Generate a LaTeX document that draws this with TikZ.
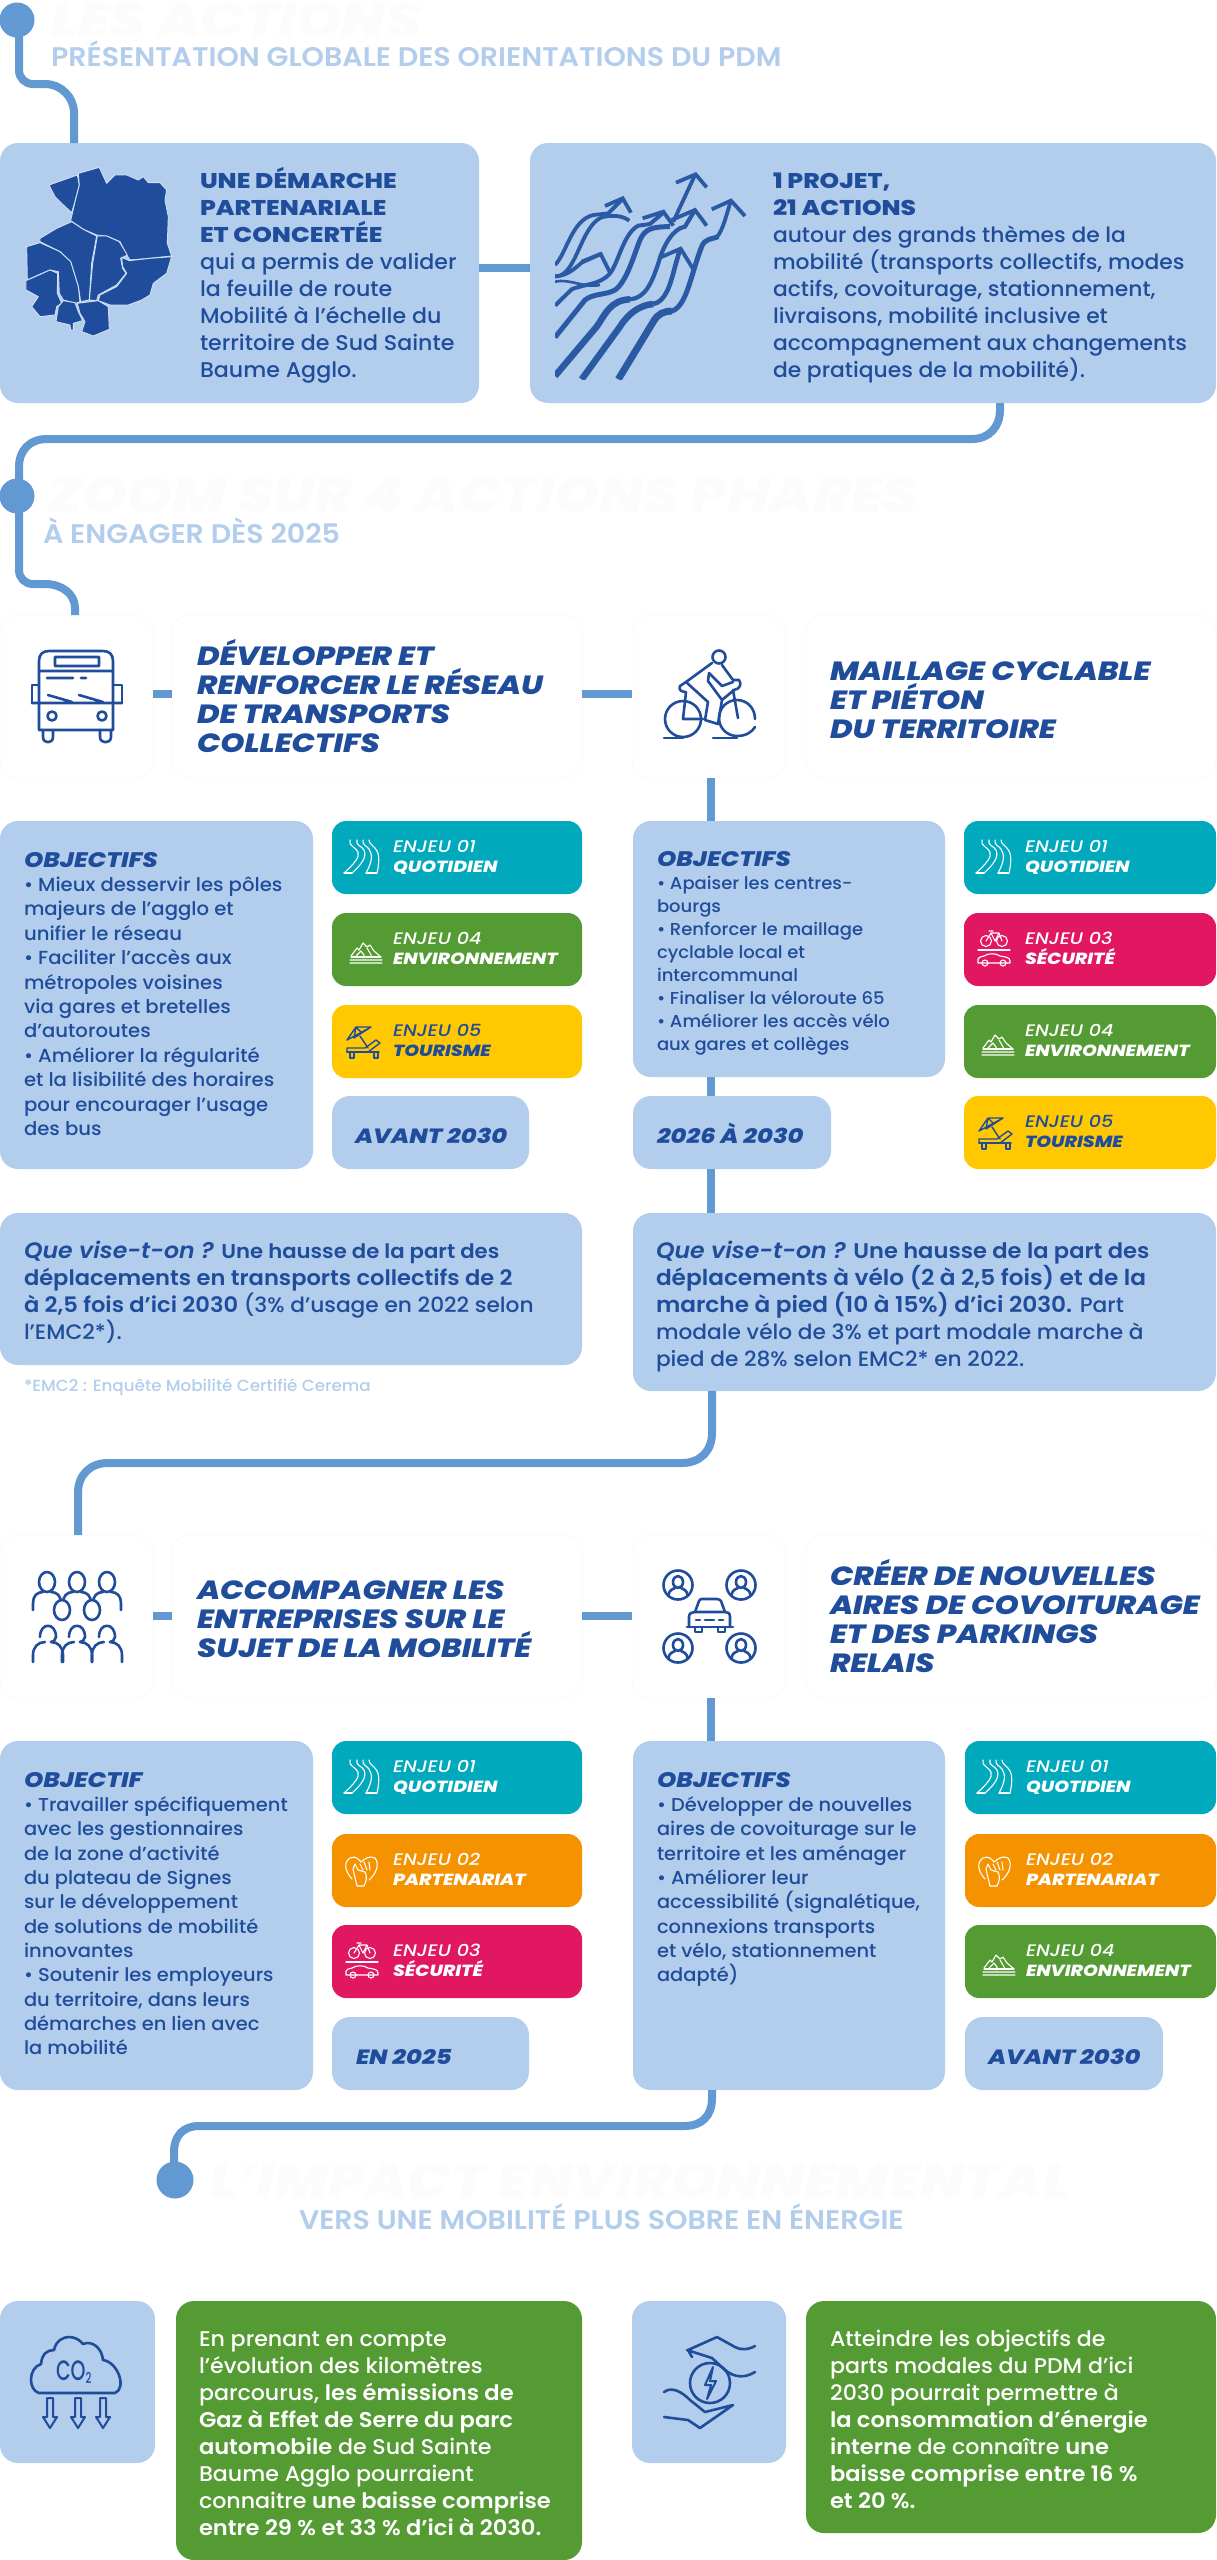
\documentclass[tikz,border=0pt]{standalone}
\usepackage{fontspec}
\setmainfont{Poppins Medium}[UprightFeatures={FakeStretch=1.04},BoldFont={Poppins ExtraBold},BoldFeatures={FakeStretch=1.17},ItalicFont={Poppins Medium Italic},ItalicFeatures={FakeStretch=1.15},BoldItalicFont={Poppins ExtraBold Italic},BoldItalicFeatures={FakeStretch=1.17}]
\newfontfamily\semif{Poppins SemiBold}[FakeStretch=1.06]
\newfontfamily\semiit{Poppins SemiBold Italic}[FakeStretch=1.06]
\newfontfamily\condf{Poppins Medium}[FakeStretch=0.68]
\definecolor{bluebox}{HTML}{B3CDEC}
\definecolor{ink}{HTML}{1F4D9B}
\definecolor{wave}{HTML}{2B5AA5}
\definecolor{conn}{HTML}{6299D2}
\definecolor{teal}{HTML}{00A9BC}
\definecolor{grn}{HTML}{549B33}
\definecolor{yel}{HTML}{FFC800}
\definecolor{org}{HTML}{F59200}
\definecolor{mag}{HTML}{E11762}
\definecolor{ghost}{HTML}{FCFCFC}
\definecolor{edge}{HTML}{FBFBFB}
\newcommand{\blk}[2]{\vtop{\baselineskip=#1pt\lineskiplimit=-100pt\halign{##\hfil\cr #2\cr}}}
\newcommand{\fsz}[1]{\fontsize{#1}{#1}\selectfont}
\tikzset{
  x=1pt,y=-1pt,
  card/.style={rectangle,rounded corners=18pt,anchor=north west,inner sep=0,outer sep=0,draw=none},
  bluecard/.style={card,fill=bluebox},
  ghostcard/.style={card,fill=white,draw=edge,line width=1pt},
  txt/.style={anchor=base west,inner sep=0,outer sep=0,text=ink},
  wtxt/.style={txt,text=white},
  body/.style={txt,font=\fsz{21.3}},
  ttl/.style={txt,font=\fsz{26.3}\bfseries\itshape},
  dateT/.style={txt,font=\fsz{20.6}\bfseries\itshape},
  subT/.style={txt,text=bluebox,font=\fsz{26.9}\semif},
  ghostT/.style={txt,text=ghost,font=\fsz{49}\bfseries\itshape},
  line/.style={draw=conn,line width=8pt},
  dotn/.style={circle,fill=conn,inner sep=0,minimum size=35pt},
  ic/.style={draw=ink,line width=2.6pt,line cap=round,line join=round},
  iw/.style={line width=1.1pt,line cap=round,line join=round},
  wv/.style={draw=wave,line width=3.8pt,line cap=butt,line join=miter},
}
% name, x, y, w, h
\newcommand{\cbb}[5]{\node[bluecard,minimum width=#4pt,minimum height=#5pt] (#1) at (#2,#3) {};}
\newcommand{\cgg}[5]{\node[ghostcard,minimum width=#4pt,minimum height=#5pt] (#1) at (#2,#3) {};}
\newcommand{\cgr}[5]{\node[card,fill=grn,minimum width=#4pt,minimum height=#5pt] (#1) at (#2,#3) {};}
% enjeu: name,x y,w,colour,textcolour,line1,line2,icon
\newcommand{\enj}[8]{%
  \node[card,rounded corners=14pt,fill=#4,minimum width=#3pt,minimum height=73pt] (#1) at (#2) {};
  \node[txt,text=#5,font=\fsz{16.7}\itshape,at={(#1.north west)},xshift=61pt,yshift=-31pt] (#1t) {\blk{20}{#6\cr{\fsz{16.1}\bfseries #7}}};
  \begin{scope}[shift={(#1.north west)}] #8 \end{scope}%
}
\newcommand{\ohead}[1]{{\fsz{21}\bfseries\itshape #1}}
\newcommand{\qv}{{\fsz{22.3}\semiit Que vise-t-on ?}}
\newcommand{\icroad}{\begin{scope}[draw=white,iw]
 \draw (12,52) .. controls (22,43) and (28,36) .. (26,31) .. controls (24,26) and (16,25) .. (18,19);
 \draw (20,52) .. controls (30,43) and (35,36) .. (32,29) .. controls (30,25) and (23,24) .. (25,19);
 \draw (34,52) .. controls (40,41) and (41,34) .. (37,28) .. controls (35,25) and (30,24) .. (31,19);
 \draw (45,52) .. controls (48,39) and (47,31) .. (43,27) .. controls (41,24) and (37,23) .. (37,19);
 \draw (12,52) -- (20,52) (34,52) -- (45,52);
\end{scope}}
\newcommand{\ichand}{\begin{scope}[draw=white,iw]
 \draw (20,45) .. controls (12,36) and (12,28) .. (18,24) .. controls (24,21) and (27,26) .. (29,28) .. controls (32,25) and (38,21) .. (43,24) .. controls (48,30) and (44,40) .. (37,46);
 \draw (21,35) -- (25,52) -- (32,52) .. controls (35,46) and (35,42) .. (33,38) -- (26,36) -- (23,30) -- cycle;
 \draw (28,30) -- (31,36) (32,28) -- (35,36) (37,28) -- (38,36);
\end{scope}}
\newcommand{\icsec}{\begin{scope}[draw=white,iw]
 \draw (22,28) circle (5.5) (38,28) circle (5.5);
 \draw (22,28) -- (27,20) -- (35,20) -- (38,28) (27,20) -- (31,28) -- (35,20) (25,18) -- (29,18);
 \draw (14,37) -- (46,37);
 \draw (14,49) -- (14,46) .. controls (14,44) and (17,44) .. (20,43) .. controls (24,40) and (32,40) .. (36,43) .. controls (41,44) and (46,44) .. (46,48) -- (46,50) -- (14,50) -- cycle;
 \draw (21,50) circle (3) (39,50) circle (3);
\end{scope}}
\newcommand{\icmount}{\begin{scope}[draw=white,iw]
 \draw (19,43) -- (25,35) -- (27,37) -- (31,30) -- (35,34) -- (38,32) -- (42,38) -- (49,44);
 \draw (24,43) -- (29,38) -- (32,42) -- (32,45) (35,35) -- (38,40) -- (40,44);
 \draw (19,44) -- (49,44);
 \draw (18,47) .. controls (21,45.5) and (23,48.5) .. (26,47) .. controls (29,45.5) and (31,48.5) .. (34,47) .. controls (37,45.5) and (39,48.5) .. (42,47) .. controls (45,45.5) and (47,48.5) .. (50,47);
 \draw (18,50) .. controls (21,48.5) and (23,51.5) .. (26,50) .. controls (29,48.5) and (31,51.5) .. (34,50) .. controls (37,48.5) and (39,51.5) .. (42,50) .. controls (45,48.5) and (47,51.5) .. (50,50);
\end{scope}}
\newcommand{\icsun}{\begin{scope}[draw=ink,iw,line width=1.4pt]
 \draw (15,35) -- (24,22) -- (39,22) -- cycle (24,22) -- (22,33) (24,22) -- (30,28) (39,22) -- (22,33);
 \draw (28,31) -- (36,43);
 \draw (15,43) -- (33,43) -- (44,35) -- (48,38) -- (36,47) -- (15,47) -- cycle;
 \draw (15,47) -- (47,47);
 \draw (18,47) -- (18,53) -- (22,53) -- (22,47) (42,47) -- (42,53) -- (46,53) -- (46,47);
\end{scope}}
\begin{document}
\begin{tikzpicture}
\useasboundingbox (0,0) rectangle (1216,2560);
\fill[white] (0,0) rectangle (1216,2560);
% ---------- boxes
\cbb{b1}{0}{143}{479}{260}
\cbb{b2}{530}{143}{686}{260}
\cgg{cA}{0}{615}{153}{163}
\cgg{cB}{172}{615}{410}{163}
\cgg{cC}{632}{615}{153}{163}
\cgg{cD}{805}{615}{411}{163}
\cgg{eA}{0}{1535}{153}{163}
\cgg{eB}{172}{1535}{410}{163}
\cgg{eC}{632}{1535}{153}{163}
\cgg{eD}{805}{1535}{411}{163}
\cbb{oA}{0}{821}{313}{348}
\cbb{oB}{633}{821}{312}{256}
\cbb{dA}{332}{1096}{197}{73}
\cbb{dB}{633}{1096}{198}{73}
\cbb{qA}{0}{1213}{582}{152}
\cbb{qB}{633}{1213}{583}{178}
\cbb{oC}{0}{1741}{313}{349}
\cbb{oD}{633}{1741}{312}{349}
\cbb{dC}{332}{2017}{197}{73}
\cbb{dD}{965}{2017}{198}{73}
\cbb{iL}{0}{2301}{155}{162}
\cbb{iR}{632}{2301}{154}{162}
\cgr{gL}{176}{2301}{406}{259}
\cgr{gR}{806}{2301}{410}{232}
% ---------- connectors
\coordinate (k1) at (19,20);
\coordinate (k3) at (174,2180);
\draw[line] (k1) -- (19,70) .. controls (19,78) and (25,84) .. (33,84) -- (45,84) .. controls (61,84) and (74,97) .. (74,113) -- (74,0 |- b1.north);
\draw[line] (b1.east |- 0,268) -- (b2.west |- 0,268);
\draw[line] (1000,0 |- b2.south) -- (1000,410) .. controls (1000,427) and (989,439) .. (972,439) -- (47,439) .. controls (30,439) and (19,450) .. (19,467) -- (19,570) .. controls (19,578) and (25,584) .. (33,584) -- (45,584) .. controls (62,584) and (75,594) .. (75,608) -- (75,0 |- cA.north);
\draw[line] (cA.east |- 0,694) -- (cB.west |- 0,694);
\draw[line] (cB.east |- 0,694) -- (cC.west |- 0,694);
\draw[line] (711,0 |- cC.south) -- (711,0 |- oB.north);
\draw[line] (711,0 |- oB.south) -- (711,0 |- dB.north);
\draw[line] (711,0 |- dB.south) -- (711,0 |- qB.north);
\draw[line] (712,0 |- qB.south) -- (712,1433) .. controls (712,1451) and (700,1463) .. (682,1463) -- (108,1463) .. controls (90,1463) and (78,1475) .. (78,1493) -- (78,0 |- eA.north);
\draw[line] (eA.east |- 0,1616) -- (eB.west |- 0,1616);
\draw[line] (eB.east |- 0,1616) -- (eC.west |- 0,1616);
\draw[line] (711,0 |- eC.south) -- (711,0 |- oD.north);
\draw[line] (712,0 |- oD.south) -- (712,2098) .. controls (712,2116) and (702,2126) .. (684,2126) -- (199,2126) .. controls (183,2126) and (174,2136) .. (174,2152) -- (k3);
\node[dotn] (d1) at (17,20) {};
\node[dotn] (d2) at (17,496) {};
\node[dotn,minimum size=37pt] (d3) at (175,2180) {};
% ---------- headings
\node[ghostT] (h1) at (50,37) {LES ACTIONS};
\node[subT] (s1) at (51,66) {PRÉSENTATION GLOBALE DES ORIENTATIONS DU PDM};
\node[ghostT] (h2) at (47,512) {ZOOM SUR 4 ACTIONS PHARES};
\node[subT] (s2) at (43,543) {À ENGAGER DÈS 2025};
\node[ghostT] (h3) at (209,2198) {L’IMPACT ENVIRONNEMENTAL};
\node[subT] (s3) at (299,2229) {VERS UNE MOBILITÉ PLUS SOBRE EN ÉNERGIE};
% ---------- top boxes text
\node[body] (t1) at (200,188) {\blk{27.1}{{\bfseries UNE DÉMARCHE}\cr{\bfseries PARTENARIALE}\cr{\bfseries ET CONCERTÉE}\cr qui a permis de valider\cr la feuille de route\cr Mobilité à l’échelle du\cr territoire de Sud Sainte\cr Baume Agglo.}};
\node[body,font=\fsz{21}] (t2) at (773,188) {\blk{27.1}{{\fsz{21.3}\bfseries 1 PROJET,}\cr{\fsz{21.3}\bfseries 21 ACTIONS}\cr autour des grands thèmes de la\cr mobilité (transports collectifs, modes\cr actifs, covoiturage, stationnement,\cr livraisons, mobilité inclusive et\cr accompagnement aux changements\cr de pratiques de la mobilité).}};
% ---------- map
\begin{scope}[shift={(0,130)},x=.3333pt,y=-.3333pt,fill=ink,draw=bluebox!60!white,line width=0.9pt,line join=round]
\filldraw (147,165)--(232,135)--(238,165)--(225,215)--(215,248)--(190,225)--(165,200)--cycle;
\filldraw (235,130)--(298,112)--(320,160)--(345,135)--(380,135)--(415,150)--(430,140)--(445,158)--(480,158)--(500,180)--(495,210)--(505,260)--(502,340)--(515,378)--(450,385)--(390,390)--(380,375)--(360,335)--(320,318)--(290,315)--(250,298)--(212,272)--(225,215)--(238,165)--cycle;
\filldraw (120,325)--(170,295)--(215,275)--(250,298)--(290,318)--(275,400)--(268,510)--(242,515)--(235,470)--(212,395)--(180,365)--(120,335)--cycle;
\filldraw (80,350)--(120,338)--(180,365)--(212,395)--(235,470)--(240,515)--(228,520)--(190,510)--(178,490)--(175,425)--(150,420)--(115,435)--(82,450)--cycle;
\filldraw (78,452)--(110,438)--(150,420)--(173,430)--(172,490)--(185,520)--(170,530)--(165,555)--(120,560)--(95,530)--(115,500)--(78,480)--cycle;
\filldraw (175,530)--(190,512)--(225,518)--(235,545)--(248,572)--(220,580)--(220,600)--(212,600)--(210,585)--(168,575)--cycle;
\filldraw (232,520)--(295,512)--(325,530)--(328,598)--(280,618)--(245,605)--(255,575)--(240,550)--cycle;
\filldraw (292,318)--(320,318)--(358,335)--(382,375)--(362,385)--(368,415)--(378,430)--(350,465)--(295,495)--(290,512)--(268,510)--(278,400)--cycle;
\filldraw (388,392)--(450,385)--(515,380)--(500,430)--(460,460)--(450,495)--(425,510)--(385,525)--(330,525)--(295,512)--(300,495)--(350,470)--(380,430)--(368,410)--(365,382)--cycle;
\end{scope}
% ---------- rising arrows
\begin{scope}[shift={(530,130)},x=.3333pt,y=-.3333pt]
\clip (75,100) rectangle (660,748);
\draw[wv,line width=7pt] (265,748) -- (370,575) .. controls (385,550) and (400,545) .. (425,543);
\draw[wv,line width=5pt] (420,545) .. controls (470,535) and (480,440) .. (515,350) .. controls (525,325) and (545,328) .. (565,320);
\draw[wv] (560,322) .. controls (580,300) and (590,250) .. (603,212);
\draw[wv] (545,238) -- (603,212) -- (645,258);
\draw[wv,line width=6.5pt] (155,748) -- (270,590) .. controls (295,550) and (330,525) .. (370,522);
\draw[wv,line width=4.6pt] (370,522) .. controls (405,515) and (420,470) .. (435,410) -- (450,358);
\draw[wv] (392,382) -- (452,356) -- (490,418);
\draw[wv,line width=6.5pt] (75,738) -- (200,590) .. controls (225,555) and (240,510) .. (300,508);
\draw[wv,line width=4.2pt] (300,508) .. controls (345,505) and (365,460) .. (385,400) .. controls (400,345) and (430,295) .. (465,290) -- (495,240);
\draw[wv] (425,270) -- (495,240) -- (530,287);
\draw[wv,line width=5pt] (75,622) -- (165,510) .. controls (190,490) and (230,495) .. (255,480) .. controls (290,455) and (310,380) .. (330,330) .. controls (345,295) and (370,290) .. (420,290);
\draw[wv] (338,265) -- (400,245) -- (430,287);
\draw[wv,line width=4pt] (75,527) -- (125,478) .. controls (170,460) and (210,465) .. (240,430) .. controls (265,400) and (280,310) .. (325,287) -- (360,282) -- (400,248);
\draw[wv,line width=2.6pt] (75,455) .. controls (120,445) and (160,475) .. (210,465);
\draw[wv] (75,438) .. controls (105,440) and (130,420) .. (155,398) -- (212,372);
\draw[wv] (155,395) -- (212,372) -- (240,428);
\draw[wv] (75,405) .. controls (110,370) and (125,270) .. (190,255) -- (235,250) -- (278,207);
\draw[wv] (225,228) -- (278,205) -- (303,248);
\draw[wv] (75,440) .. controls (140,440) and (150,290) .. (215,262) .. controls (245,255) and (275,255) .. (298,272);
\draw[wv] (430,275) -- (495,135);
\draw[wv] (438,158) -- (497,133) -- (530,172);
\end{scope}
% ---------- section 1 cards
\draw[ic] (39,703) -- (39,661) .. controls (39,654) and (43,651) .. (49,651) -- (103,651) .. controls (109,651) and (113,654) .. (113,661) -- (113,730) -- (39,730) -- (39,703);
\draw[ic] (39,671) -- (113,671) (32,703) -- (122,703) (55,657) rectangle (99,666) (47,678) -- (73,678) (81,678) -- (86,678) (48,695) -- (72,702) (79,695) -- (103,702);
\draw[ic] (39,685) -- (32,685) -- (32,703) (113,685) -- (122,685) -- (122,703);
\draw[ic] (52,716) circle (4.5) (102,716) circle (4.5);
\draw[ic] (43,730) -- (43,737) .. controls (43,744) and (53,744) .. (53,737) -- (53,730) (100,730) -- (100,737) .. controls (100,744) and (111,744) .. (111,737) -- (111,730);
\node[ttl] (T1) at (197,665) {\blk{29.3}{DÉVELOPPER ET\cr RENFORCER LE RÉSEAU\cr DE TRANSPORTS\cr COLLECTIFS}};
\draw[ic] (719,657) circle (6.5) (683,719) circle (18);
\draw[ic] (755,719) .. controls (755,708) and (747,700) .. (737,700) .. controls (727,700) and (719,708) .. (719,718) .. controls (719,728) and (727,736) .. (737,736) .. controls (746,736) and (752,732) .. (755,727);
\draw[ic] (664,738) -- (683,738) (713,738) -- (737,738);
\draw[ic] (712,663) -- (686,682) -- (708,702) -- (705,720) -- (718,724) -- (722,700) -- (708,681) -- (709,673) -- (722,686) -- (733,682) (722,665) -- (733,680) -- (739,680) .. controls (742,684) and (740,689) .. (734,690) -- (722,700);
\draw[ic] (686,682) -- (680,686) .. controls (678,690) and (682,692) .. (686,692) -- (683,719) -- (703,719) (733,690) -- (738,718);
\node[ttl] (T2) at (830,680) {\blk{29.3}{MAILLAGE CYCLABLE\cr ET PIÉTON\cr DU TERRITOIRE}};
% ---------- section 1 objectives
\node[txt,font=\fsz{18.9}] (O1) at (24,867) {\blk{24.4}{\ohead{OBJECTIFS}\cr • Mieux desservir les pôles\cr majeurs de l’agglo et\cr unifier le réseau\cr • Faciliter l’accès aux\cr métropoles voisines\cr via gares et bretelles\cr d’autoroutes\cr • Améliorer la régularité\cr et la lisibilité des horaires\cr pour encourager l’usage\cr des bus}};
\node[txt,font=\fsz{17.3}] (O2) at (657,866) {\blk{23}{\ohead{OBJECTIFS}\cr • Apaiser les centres-\cr bourgs\cr • Renforcer le maillage\cr cyclable local et\cr intercommunal\cr • Finaliser la véloroute 65\cr • Améliorer les accès vélo\cr aux gares et collèges}};
\enj{a1}{332,821}{250}{teal}{white}{ENJEU 01}{QUOTIDIEN}{\icroad}
\enj{a2}{332,913}{250}{grn}{white}{ENJEU 04}{ENVIRONNEMENT}{\icmount}
\enj{a3}{332,1005}{250}{yel}{ink}{ENJEU 05}{TOURISME}{\icsun}
\enj{b1e}{964,821}{252}{teal}{white}{ENJEU 01}{QUOTIDIEN}{\icroad}
\enj{b2e}{964,913}{252}{mag}{white}{ENJEU 03}{SÉCURITÉ}{\icsec}
\enj{b3e}{964,1005}{252}{grn}{white}{ENJEU 04}{ENVIRONNEMENT}{\icmount}
\enj{b4e}{964,1096}{252}{yel}{ink}{ENJEU 05}{TOURISME}{\icsun}
\node[dateT] (D1) at (355,1143) {AVANT 2030};
\node[dateT] (D2) at (657,1143) {2026 À 2030};
\node[body,font=\fsz{20.9}] (Q1) at (24,1258) {\blk{27.1}{\qv{} {\fsz{20}\semif Une hausse de la part des}\cr{\fsz{21.3}\semif déplacements en transports collectifs de 2}\cr{\fsz{21.3}\semif à 2,5 fois d’ici 2030} (3\% d’usage en 2022 selon\cr l’EMC2*).}};
\node[body,font=\fsz{20.9}] (Q2) at (656,1258) {\blk{27.1}{\qv{} {\fsz{21.3}\semif Une hausse de la part des}\cr{\fsz{21.9}\semif déplacements à vélo (2 à 2,5 fois) et de la}\cr{\fsz{21.9}\semif marche à pied (10 à 15\%) d’ici 2030.} Part\cr modale vélo de 3\% et part modale marche à\cr pied de 28\% selon EMC2* en 2022.}};
\node[txt,text=bluebox,font=\fsz{16.1}] (fn) at (24,1391) {*EMC2 : Enquête Mobilité Certifié Cerema};
% ---------- section 2 cards: people
\foreach \px in {47,77,107} {
 \draw[ic] (\px,1582) ellipse (8 and 10);
 \draw[ic] (\px-14,1610) -- (\px-14,1603) .. controls (\px-14,1596) and (\px-10,1592) .. (\px-4,1592);
 \draw[ic] (\px+14,1610) -- (\px+14,1603) .. controls (\px+14,1596) and (\px+10,1592) .. (\px+4,1592);
}
\foreach \px in {62,92} {\draw[ic,fill=white] (\px,1610) ellipse (8 and 10);}
\foreach \px in {48,77,107} {
 \draw[ic] (\px-8,1637) .. controls (\px-8,1622) and (\px+8,1622) .. (\px+8,1637) .. controls (\px+8,1640) and (\px+5,1642) .. (\px+3,1642);
 \draw[ic] (\px-15,1662) -- (\px-15,1655) .. controls (\px-15,1647) and (\px-10,1642) .. (\px-3,1642) (\px+15,1662) -- (\px+15,1655) .. controls (\px+15,1647) and (\px+10,1642) .. (\px+3,1642);
}
\node[ttl] (T3) at (197,1599) {\blk{29.3}{ACCOMPAGNER LES\cr ENTREPRISES SUR LE\cr SUJET DE LA MOBILITÉ}};
\foreach \cx/\cy in {678/1585,741/1585,678/1648,741/1648} {
 \draw[ic] (\cx,\cy) circle (14.5);
 \draw[ic] (\cx,\cy-3) ellipse (5 and 6);
 \draw[ic] (\cx-9.5,\cy+10) .. controls (\cx-9,\cy+5) and (\cx-5,\cy+4) .. (\cx-3,\cy+3) (\cx+9.5,\cy+10) .. controls (\cx+9,\cy+5) and (\cx+5,\cy+4) .. (\cx+3,\cy+3);
}
\draw[ic] (695,1612) -- (699,1601) .. controls (700,1599) and (701,1599) .. (702,1599) -- (717,1599) .. controls (719,1599) and (720,1600) .. (721,1601) -- (725,1612);
\draw[ic] (689,1627) -- (689,1617) .. controls (689,1613) and (692,1612) .. (695,1612) -- (725,1612) .. controls (728,1612) and (730,1613) .. (730,1617) -- (730,1627);
\draw[ic] (687,1627) -- (733,1627) (695,1627) -- (695,1632) -- (702,1632) -- (702,1627) (718,1627) -- (718,1632) -- (725,1632) -- (725,1627) (696,1620) -- (700,1620) (705,1620) -- (714,1620) (719,1620) -- (723,1620);
\node[ttl] (T4) at (830,1585) {\blk{29.3}{CRÉER DE NOUVELLES\cr AIRES DE COVOITURAGE\cr ET DES PARKINGS\cr RELAIS}};
% ---------- section 2 objectives
\node[txt,font=\fsz{18.7}] (O3) at (24,1787) {\blk{24.35}{\ohead{OBJECTIF}\cr • Travailler spécifiquement\cr avec les gestionnaires\cr de la zone d’activité\cr du plateau de Signes\cr sur le développement\cr de solutions de mobilité\cr innovantes\cr • Soutenir les employeurs\cr du territoire, dans leurs\cr démarches en lien avec\cr la mobilité}};
\node[txt,font=\fsz{18.7}] (O4) at (657,1787) {\blk{24.35}{\ohead{OBJECTIFS}\cr • Développer de nouvelles\cr aires de covoiturage sur le\cr territoire et les aménager\cr • Améliorer leur\cr accessibilité (signalétique,\cr connexions transports\cr et vélo, stationnement\cr adapté)}};
\enj{c1}{332,1741}{250}{teal}{white}{ENJEU 01}{QUOTIDIEN}{\icroad}
\enj{c2}{332,1834}{250}{org}{white}{ENJEU 02}{PARTENARIAT}{\ichand}
\enj{c3}{332,1925}{250}{mag}{white}{ENJEU 03}{SÉCURITÉ}{\icsec}
\enj{e1}{965,1741}{251}{teal}{white}{ENJEU 01}{QUOTIDIEN}{\icroad}
\enj{e2}{965,1834}{251}{org}{white}{ENJEU 02}{PARTENARIAT}{\ichand}
\enj{e3}{965,1925}{251}{grn}{white}{ENJEU 04}{ENVIRONNEMENT}{\icmount}
\node[dateT] (D3) at (356,2064) {EN 2025};
\node[dateT] (D4) at (988,2064) {AVANT 2030};
% ---------- impact icons
\draw[ic] (39,2393) .. controls (28,2390) and (28,2368) .. (41,2364) .. controls (42,2354) and (47,2350) .. (54,2350) .. controls (56,2340) and (64,2337) .. (69,2337) .. controls (75,2337) and (80,2340) .. (83,2344) .. controls (92,2340) and (102,2348) .. (103,2360) .. controls (118,2362) and (127,2388) .. (115,2393) -- cycle;
\node[txt,font=\fsz{28}\condf] (co) at (56,2380) {CO\raisebox{-3pt}{\fsz{15}2}};
\foreach \ax in {50,78,103} {
 \draw[ic,line width=2pt] (\ax-3,2398) -- (\ax-3,2417) -- (\ax-7,2417) -- (\ax,2428) -- (\ax+7,2417) -- (\ax+3,2417) -- (\ax+3,2398) -- cycle;
}
\draw[ic] (710,2383) circle (20);
\draw[ic,line width=2pt] (713,2367) -- (705,2385) -- (711,2385) -- (707,2399) -- (716,2381) -- (710,2381) -- cycle;
\draw[ic] (692,2357) -- (688,2350) -- (717,2337) -- (735,2347) .. controls (740,2350) and (748,2350) .. (755,2346);
\draw[ic] (687,2350) -- (712,2358) -- (725,2370) .. controls (735,2378) and (745,2378) .. (755,2372);
\draw[ic] (664,2392) .. controls (672,2386) and (682,2392) .. (690,2400) -- (705,2412) -- (733,2405) -- (700,2428) -- (688,2420) -- (664,2417);
\node[wtxt,font=\fsz{21.3}] (G1) at (199,2346) {\blk{27.1}{En prenant en compte\cr l’évolution des kilomètres\cr parcourus, {\semif les émissions de}\cr{\semif Gaz à Effet de Serre du parc}\cr{\semif automobile} de Sud Sainte\cr Baume Agglo pourraient\cr connaitre {\semif une baisse comprise}\cr{\semif entre 29 \% et 33 \% d’ici à 2030.}}};
\node[wtxt,font=\fsz{21.3}] (G2) at (830,2346) {\blk{27.1}{Atteindre les objectifs de\cr parts modales du PDM d’ici\cr 2030 pourrait permettre à\cr{\semif la consommation d’énergie}\cr{\semif interne} de connaître {\semif une}\cr{\semif baisse comprise entre 16 \%}\cr{\semif et 20 \%.}}};
\end{tikzpicture}
\end{document}
